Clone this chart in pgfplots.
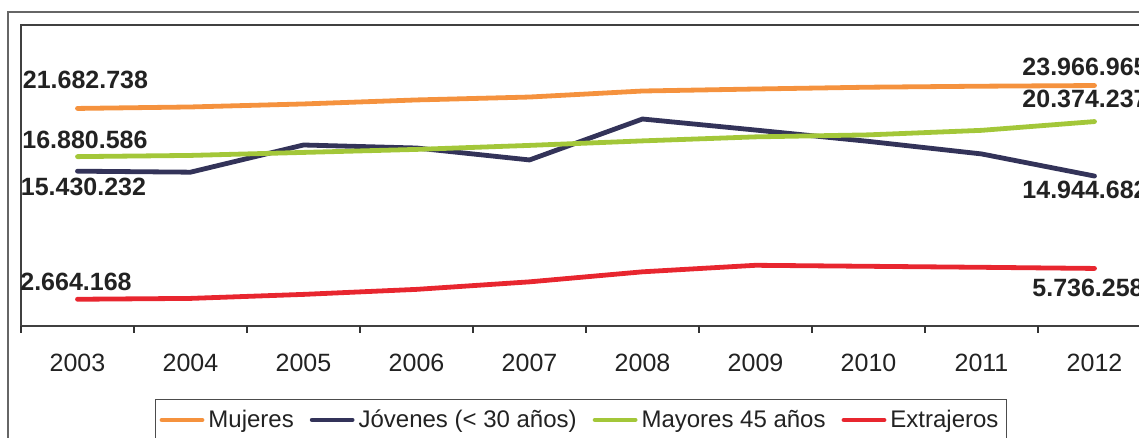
\documentclass[border=0pt]{standalone}
\usepackage{fontspec}
\setmainfont{Liberation Sans}
\usepackage{pgfplots}
\pgfplotsset{compat=1.18}

\definecolor{cMuj}{HTML}{F5923E}
\definecolor{cJov}{HTML}{333359}
\definecolor{cMay}{HTML}{A3C739}
\definecolor{cExt}{HTML}{E8262F}
\definecolor{txt}{HTML}{222222}

\begin{document}
\begin{tikzpicture}
\useasboundingbox (0,0) rectangle (569.5pt,219pt);
\clip (0,0) rectangle (569.5pt,219pt);
% chart area frame (cut off at right and bottom)
\draw[black!60, line width=0.6pt] (4pt,213pt) rectangle (640pt,-40pt);
\begin{axis}[
    at={(10.5pt,56pt)}, anchor=south west,
    scale only axis,
    width=565pt, height=150.5pt,
    xmin=-0.5, xmax=9.5,
    ymin=0, ymax=30000000,
    ytick=\empty,
    xtick={0,...,9},
    xticklabels={2003,2004,2005,2006,2007,2008,2009,2010,2011,2012},
    xtick pos=bottom,
    major tick length=0pt,
    extra x ticks={-0.5,0.5,...,9.5},
    extra x tick labels={},
    extra x tick style={major tick length=3.5pt, tick align=outside,
        tick style={black!80, line width=0.6pt}},
    xticklabel style={font=\fontsize{12.5}{15}\selectfont, text=txt, anchor=base, yshift=-23pt},
    axis line style={black!75, line width=0.6pt},
    clip=false,
    legend columns=4,
    legend style={at={(0.1186,-0.2425)}, anchor=north west,
        draw=black!70, line width=0.6pt,
        font=\fontsize{12}{14}\selectfont, text=txt,
        /tikz/every even column/.append style={column sep=6pt},
        inner xsep=2pt, inner ysep=3pt},
    legend image code/.code={\draw[line width=2.4pt] (0pt,0pt) -- (20pt,0pt);},
    every axis plot/.append style={line width=2.4pt, line join=round, line cap=round},
]
\addplot[cMuj] coordinates {
    (0,21682738) (1,21830000) (2,22130000) (3,22530000) (4,22820000)
    (5,23420000) (6,23620000) (7,23800000) (8,23900000) (9,23966965)
};
\addplot[cJov] coordinates {
    (0,15430232) (1,15330000) (2,18040000) (3,17740000) (4,16550000)
    (5,20630000) (6,19530000) (7,18400000) (8,17150000) (9,14944682)
};
\addplot[cMay] coordinates {
    (0,16880586) (1,17000000) (2,17300000) (3,17600000) (4,18000000)
    (5,18450000) (6,18850000) (7,19050000) (8,19500000) (9,20374237)
};
\addplot[cExt] coordinates {
    (0,2664168) (1,2750000) (2,3150000) (3,3650000) (4,4400000)
    (5,5400000) (6,6050000) (7,5950000) (8,5850000) (9,5736258)
};
\legend{Mujeres, Jóvenes (< 30 años), Mayores 45 años, Extrajeros}

\tikzset{lab/.style={font=\bfseries\fontsize{12.5}{15}\selectfont, text=txt, inner sep=0pt}}
\node[lab, xshift=4pt, yshift=14.25pt] at (axis cs:0,21682738) {21.682.738};
\node[lab, xshift=3.75pt, yshift=8.3pt] at (axis cs:0,16880586) {16.880.586};
\node[lab, xshift=3pt, yshift=-8.1pt] at (axis cs:0,15430232) {15.430.232};
\node[lab, xshift=-0.75pt, yshift=8.6pt] at (axis cs:0,2664168) {2.664.168};
\node[lab, xshift=-4.75pt, yshift=9.25pt] at (axis cs:9,23966965) {23.966.965};
\node[lab, xshift=-4.75pt, yshift=11.3pt] at (axis cs:9,20374237) {20.374.237};
\node[lab, xshift=-4.75pt, yshift=-7pt] at (axis cs:9,14944682) {14.944.682};
\node[lab, xshift=-3.25pt, yshift=-9.5pt] at (axis cs:9,5736258) {5.736.258};
\end{axis}
\end{tikzpicture}
\end{document}
